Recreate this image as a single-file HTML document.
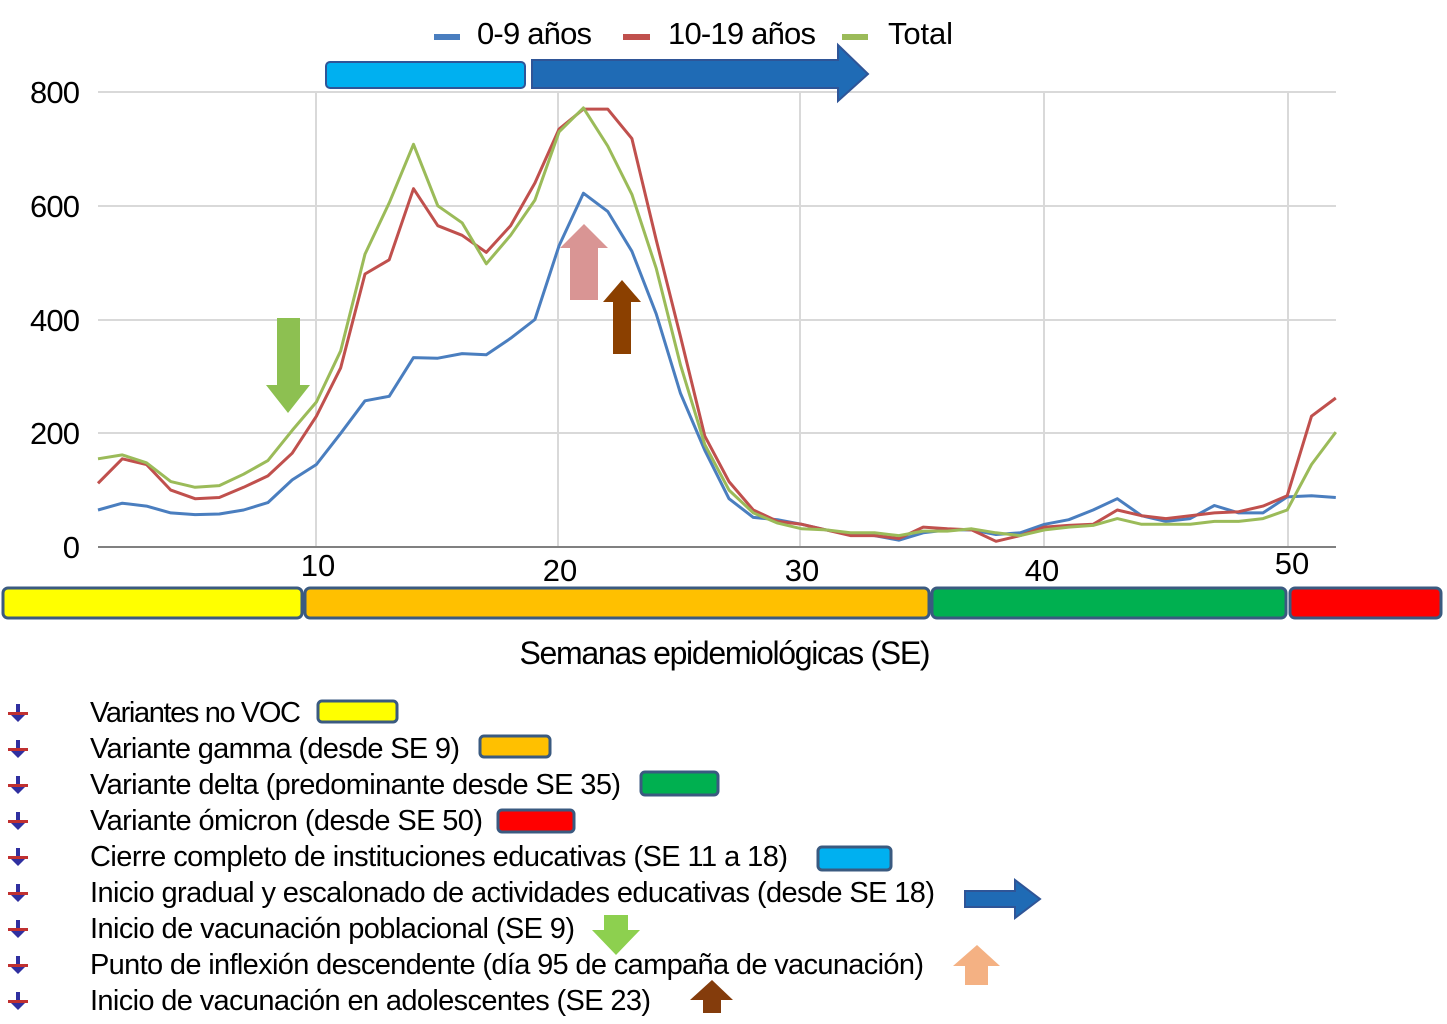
<!DOCTYPE html>
<html><head><meta charset="utf-8"><style>
html,body{margin:0;padding:0;background:#fff;}
svg{display:block;font-family:"Liberation Sans",Arial,sans-serif;}
</style></head><body>
<svg id="s" width="1447" height="1024" viewBox="0 0 1447 1024" xmlns="http://www.w3.org/2000/svg">
<g stroke="#d9d9d9" stroke-width="2">
<line x1="98" y1="92" x2="1336" y2="92"/><line x1="98" y1="206" x2="1336" y2="206"/>
<line x1="98" y1="320" x2="1336" y2="320"/><line x1="98" y1="433" x2="1336" y2="433"/>
<line x1="316" y1="92" x2="316" y2="547"/><line x1="558" y1="92" x2="558" y2="547"/>
<line x1="800" y1="92" x2="800" y2="547"/><line x1="1044" y1="92" x2="1044" y2="547"/>
<line x1="1288" y1="92" x2="1288" y2="547"/>
</g>
<line x1="98" y1="547" x2="1336" y2="547" stroke="#808080" stroke-width="2"/>
<g font-size="31" fill="#000" text-anchor="end">
<text x="80" y="103" textLength="50">800</text><text x="80" y="217" textLength="50">600</text>
<text x="80" y="331" textLength="50">400</text><text x="80" y="444" textLength="50">200</text>
<text x="80" y="558">0</text>
</g>
<g font-size="31" fill="#000" text-anchor="middle">
<text x="318" y="576">10</text><text x="560" y="581">20</text><text x="802" y="581">30</text>
<text x="1042" y="581">40</text><text x="1292" y="574">50</text>
</g>
<g id="lines" fill="none" stroke-width="3" stroke-linejoin="round"></g>
<!-- chart arrows -->
<polygon points="277,318 300,318 300,385 310,385 288,413 266,385 277,385" fill="#8dc051"/>
<polygon points="570,300 598,300 598,248 608,248 584,224 560,248 570,248" fill="#d99594"/>
<polygon points="613,354 631,354 631,302 641,302 622,280 603,302 613,302" fill="#8b4000"/>
<!-- top bars -->
<rect x="326" y="62" width="199" height="26" rx="4" fill="#00b0f0" stroke="#2f5597" stroke-width="2"/>
<polygon points="532,60 838,60 838,45 868,74 838,101 838,88 532,88" fill="#1f6bb5" stroke="#2f5597" stroke-width="2"/>
<!-- top legend -->
<g font-size="31" fill="#000">
<rect x="434" y="34" width="26" height="6" fill="#4a7ebf"/><text x="477" y="44" textLength="115">0-9 años</text>
<rect x="623" y="34" width="27" height="6" fill="#c0504d"/><text x="668" y="44" textLength="148">10-19 años</text>
<rect x="842" y="34" width="26" height="6" fill="#9bbb59"/><text x="888" y="44" textLength="65">Total</text>
</g>
<!-- variant bars -->
<g stroke="#3a5a80" stroke-width="3">
<rect x="3" y="588" width="299" height="30" rx="5" fill="#ffff00"/>
<rect x="305" y="588" width="624" height="30" rx="5" fill="#ffc000"/>
<rect x="932" y="588" width="354" height="30" rx="5" fill="#00b050"/>
<rect x="1290" y="588" width="151" height="30" rx="5" fill="#ff0000"/>
</g>
<text x="725" y="664" font-size="32" text-anchor="middle" textLength="411">Semanas epidemiológicas (SE)</text>
<!-- legend list -->
<g id="leg" font-size="29" fill="#000"></g>
<g stroke="#3a5a80" stroke-width="3">
<rect x="318" y="701" width="79" height="21" rx="4" fill="#ffff00"/>
<rect x="480" y="736" width="70" height="21" rx="4" fill="#ffc000"/>
<rect x="641" y="772" width="77" height="23" rx="4" fill="#00b050"/>
<rect x="498" y="810" width="76" height="22" rx="4" fill="#ff0000"/>
<rect x="818" y="847" width="73" height="23" rx="4" fill="#00b0f0"/>
</g>
<polygon points="965,891 1015,891 1015,880 1040,899 1015,918 1015,907 965,907" fill="#1f6bb5" stroke="#2f5597" stroke-width="2"/>
<polygon points="604,915 628,915 628,930 640,930 616,955 592,930 604,930" fill="#8dd04f"/>
<polygon points="965,985 988,985 988,966 1000,966 977,945 953,966 965,966" fill="#f4b183"/>
<polygon points="703,1013 721,1013 721,1000 733,1000 712,980 690,1000 703,1000" fill="#843c0c"/>
</svg>
<script>
var blue=[65,77,72,60,57,58,65,78,118,145,200,257,265,333,332,340,338,367,400,530,622,590,520,410,270,170,85,52,48,40,30,22,20,12,25,30,30,22,25,40,48,65,85,55,45,50,73,60,60,88,90,87];
var red=[112,155,145,100,85,87,105,125,165,230,315,480,505,630,565,548,518,565,640,735,770,770,718,540,370,195,115,65,45,40,30,20,20,15,35,32,30,10,20,35,38,40,65,55,50,55,60,62,72,90,230,262];
var green=[155,162,148,115,105,108,128,152,205,255,345,515,605,708,600,570,498,548,610,730,772,705,620,490,320,180,100,60,42,32,30,25,25,20,28,28,32,25,20,30,35,38,50,40,40,40,45,45,50,65,145,202];
function pts(a){return a.map(function(v,i){return (98+i*24.27).toFixed(1)+","+(547-v*0.56875).toFixed(1)}).join(" ");}
var g=document.getElementById("lines"),ns="http://www.w3.org/2000/svg";
[[blue,"#4a7ebf"],[red,"#c0504d"],[green,"#9bbb59"]].forEach(function(d){var p=document.createElementNS(ns,"polyline");p.setAttribute("points",pts(d[0]));p.setAttribute("stroke",d[1]);g.appendChild(p);});
var items=[["Variantes no VOC",211],["Variante gamma (desde SE 9)",370],["Variante delta (predominante desde SE 35)",531],["Variante ómicron (desde SE 50)",393],["Cierre completo de instituciones educativas (SE 11 a 18)",698],["Inicio gradual y escalonado de actividades educativas (desde SE 18)",845],["Inicio de vacunación poblacional (SE 9)",485],["Punto de inflexión descendente (día 95 de campaña de vacunación)",834],["Inicio de vacunación en adolescentes (SE 23)",561]];
var L=document.getElementById("leg");
items.forEach(function(it,i){var y=712+i*36;
var t=document.createElementNS(ns,"text");t.setAttribute("x",90);t.setAttribute("y",y+10);t.setAttribute("textLength",it[1]);t.textContent=it[0];L.appendChild(t);
var a=document.createElementNS(ns,"polygon");a.setAttribute("points",(16)+","+(y-8)+" 20,"+(y-8)+" 20,"+(y+2)+" 26,"+(y+2)+" 18,"+(y+10)+" 10,"+(y+2)+" 16,"+(y+2));a.setAttribute("fill","#3030a0");L.appendChild(a);
var r=document.createElementNS(ns,"rect");r.setAttribute("x",8);r.setAttribute("y",y);r.setAttribute("width",20);r.setAttribute("height",3);r.setAttribute("fill","#c03030");L.appendChild(r);});
</script>
</body></html>
